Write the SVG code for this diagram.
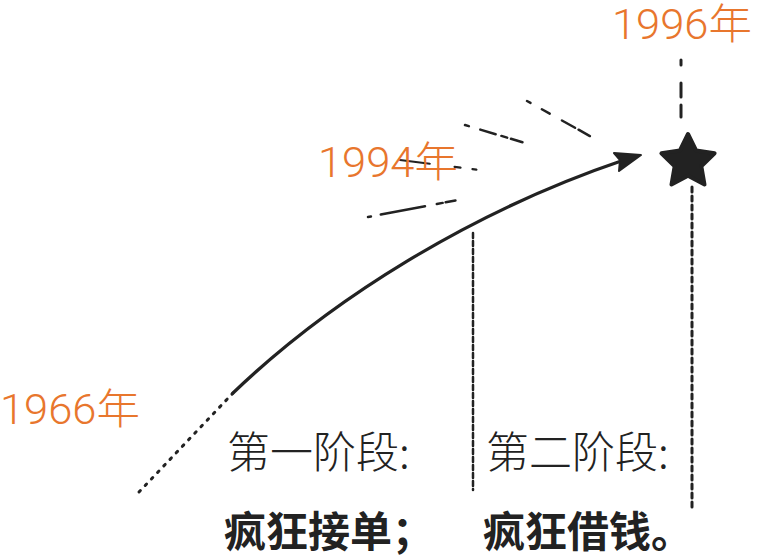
<svg xmlns="http://www.w3.org/2000/svg" width="758" height="558" viewBox="0 0 758 558">
<style>
.yr{font-family:Roboto,"Liberation Sans","Noto Sans CJK SC",sans-serif;font-weight:300;font-size:42px;fill:#E8762D}
.st{font-family:"Noto Sans CJK SC",sans-serif;font-weight:300;font-size:43px;fill:#222}
.bd{font-family:"Noto Sans CJK SC",sans-serif;font-weight:700;font-size:42px;fill:#222}
.ln{fill:none;stroke:#222;stroke-linecap:round}
</style>
<rect width="758" height="558" fill="#fff"/>
<g id="connectors">
<path class="ln" d="M139,492 L233,393" stroke-width="3" stroke-dasharray="2 7"/>
<path class="ln" d="M233,393 C330,300 470,212 624,160" stroke-width="3.2"/>
<polygon points="641,155 614,153 620,160 619,171" fill="#222" stroke="#222" stroke-width="2" stroke-linejoin="round"/>
<path class="ln" d="M473,233 L473,490" stroke-width="2.5" stroke-dasharray="5 3"/>
<path class="ln" d="M692,187 L692,510" stroke-width="3" stroke-dasharray="5 4"/>
<path class="ln" d="M681,60 L681,117" stroke-width="3" stroke-dasharray="5 18 14 8 12"/>
<path class="ln" d="M527,101 L597,140" stroke-width="2.5" stroke-dasharray="4 13 9 14 15"/>
<path class="ln" d="M465,125 L525,143" stroke-width="2.5" stroke-dasharray="4 12 16 6 6"/>
<path class="ln" d="M400,160 L488,171" stroke-width="2.2" stroke-dasharray="30 25 6 12 4"/>
<path class="ln" d="M368,217 L458,200" stroke-width="2.5" stroke-dasharray="3 10 45 12 6"/>
</g>
<g id="star">
<polygon points="688,134 696.2,150.6 714.6,153.3 701.3,166.2 704.5,184.5 688,175.8 671.5,184.5 674.7,166.2 661.4,153.3 679.8,150.6" fill="#222" stroke="#222" stroke-width="4" stroke-linejoin="round"/>
</g>
<g id="y1996"><text class="yr" x="612" y="39" font-size="40" textLength="140" lengthAdjust="spacingAndGlyphs">1996年</text></g>
<g id="y1994"><text class="yr" x="318" y="177" textLength="140" lengthAdjust="spacingAndGlyphs">1994年</text></g>
<g id="y1966"><text class="yr" x="0" y="424" textLength="140" lengthAdjust="spacingAndGlyphs">1966年</text></g>
<g id="stage1">
<text class="st" x="227" y="468">第一阶段:</text>
<text class="bd" x="224" y="547">疯狂接单；</text>
</g>
<g id="stage2">
<text class="st" x="486" y="468">第二阶段:</text>
<text class="bd" x="483" y="547">疯狂借钱。</text>
</g>
</svg>
